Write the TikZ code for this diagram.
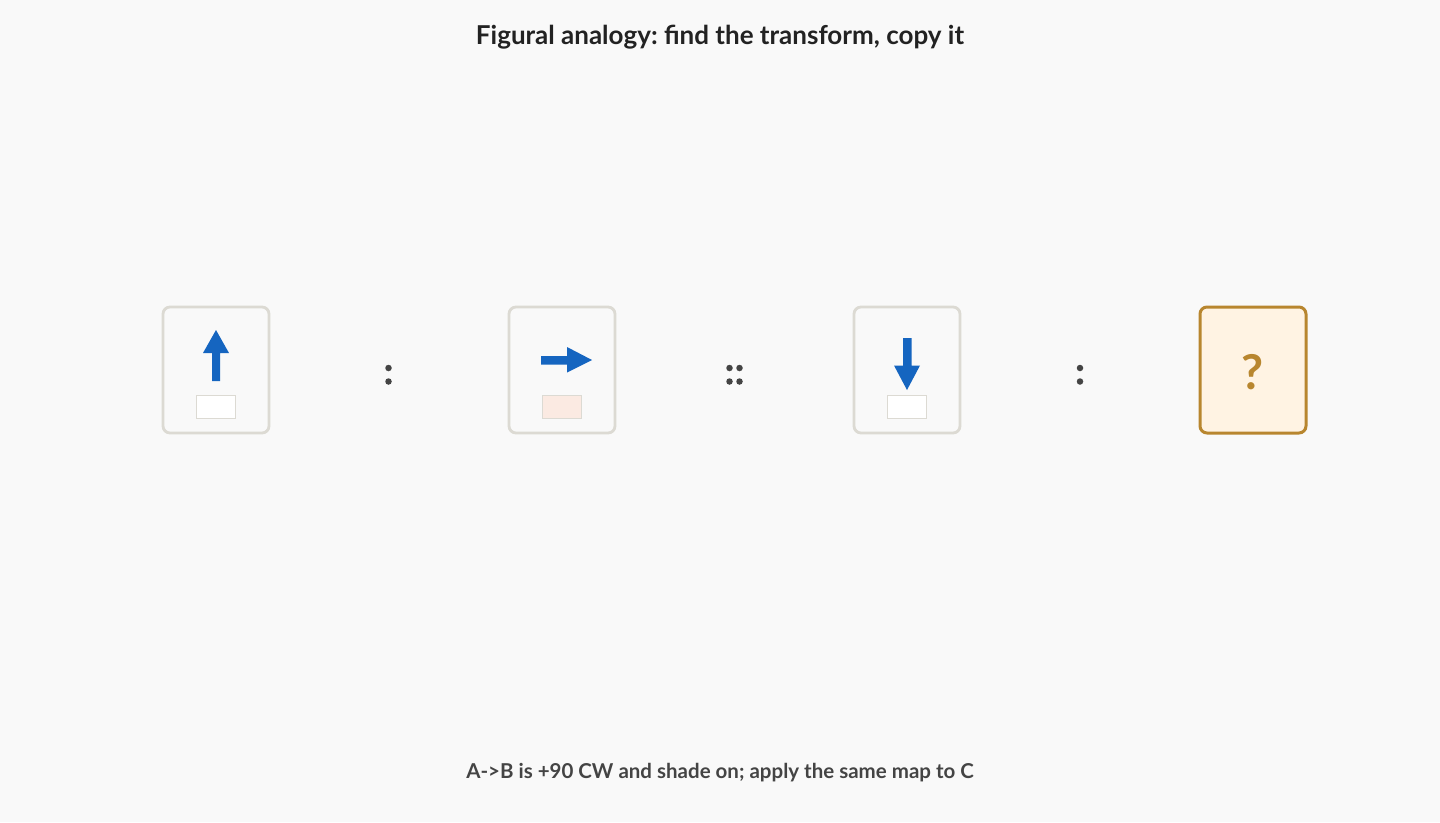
\documentclass[tikz,border=0pt]{standalone}
\usepackage{fontspec}
\setmainfont{Lato}
\frenchspacing
\definecolor{bg}{HTML}{F9F9F9}
\definecolor{panelborder}{HTML}{DCDAD3}
\definecolor{arrowblue}{HTML}{1565C0}
\definecolor{dotgray}{HTML}{444444}
\definecolor{shadepink}{HTML}{FBEAE2}
\definecolor{qfill}{HTML}{FFF3E3}
\definecolor{qborder}{HTML}{B8862F}
\definecolor{titlegray}{HTML}{222222}
\tikzset{
  panel/.style={draw=panelborder, line width=2.8pt, fill=bg, rounded corners=7pt, minimum width=106pt, minimum height=126pt, inner sep=0pt},
  qpanel/.style={draw=qborder, line width=3pt, fill=qfill, rounded corners=7pt, minimum width=106pt, minimum height=126pt, inner sep=0pt, text=qborder},
  shadebox/.style={draw=panelborder, line width=1.5pt, minimum width=39pt, minimum height=23pt, inner sep=0pt},
  bluearrow/.style={fill=arrowblue, draw=none},
  dot/.style={circle, fill=dotgray, minimum size=6.5pt, inner sep=0pt},
}
\begin{document}
\begin{tikzpicture}[x=1pt,y=-1pt]
\useasboundingbox[fill=bg] (0,0) rectangle (1440,822);
\node[font=\bfseries\fontsize{26}{30}\selectfont, text=titlegray] (title) at (720,37) {Figural analogy: find the transform, copy it};
\node[font=\bfseries\fontsize{20.5}{25}\selectfont, text=dotgray] (caption) at (720,773) {A->B is +90 CW and shade on; apply the same map to C};

% panels
\node[panel] (A) at (216,370) {};
\node[panel] (B) at (562,370) {};
\node[panel] (C) at (907,370) {};
\node[qpanel] (D) at (1253,370) {};
\node[text=qborder, font=\bfseries\fontsize{48}{52}\selectfont, inner sep=0pt] (q) at (1253,372) {?};

% shade boxes
\node[shadebox, fill=white] (sa) at (216,407) {};
\node[shadebox, fill=shadepink] (sb) at (562,407) {};
\node[shadebox, fill=white] (sc) at (907,407) {};

% arrow A (up)
\fill[bluearrow] (212,381) -- (220,381) -- (220,353) -- (229,353) -- (216,330) -- (203,353) -- (212,353) -- cycle;
% arrow B (right)
\fill[bluearrow] (541,356) -- (567,356) -- (567,347) -- (592,360) -- (567,372.5) -- (567,364.5) -- (541,364.5) -- cycle;
% arrow C (down)
\fill[bluearrow] (903,338) -- (911.5,338) -- (911.5,365.5) -- (920,365.5) -- (907,390) -- (894,365.5) -- (903,365.5) -- cycle;

% separators
\node[dot] (c1a) at (388.5,368) {};
\node[dot] (c1b) at (388.5,381.5) {};
\node[dot] (d1) at (729.5,368) {};
\node[dot] (d2) at (739.5,368) {};
\node[dot] (d3) at (729.5,381.5) {};
\node[dot] (d4) at (739.5,381.5) {};
\node[dot] (c3a) at (1080,368) {};
\node[dot] (c3b) at (1080,381.5) {};
\end{tikzpicture}
\end{document}
